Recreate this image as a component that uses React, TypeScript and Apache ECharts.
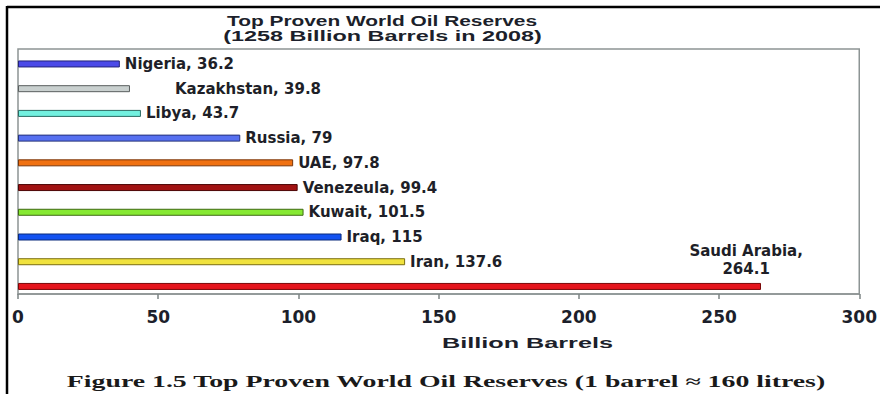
import React, { useEffect, useRef } from "react";
import * as echarts from "echarts";

const countries = ["Nigeria", "Kazakhstan", "Libya", "Russia", "UAE", "Venezeula", "Kuwait", "Iraq", "Iran", "Saudi Arabia"];
const reserves = [36.2, 39.8, 43.7, 79, 97.8, 99.4, 101.5, 115, 137.6, 264.1];
const barColors = ["#4b4ae8", "#c9d0cf", "#72f0df", "#5670f0", "#f07112", "#a11212", "#86e932", "#1352f0", "#f0e23e", "#e5151c"];
const borderColors = ["#23237a", "#5a5f5f", "#2a6a62", "#25327a", "#7a3508", "#4d0606", "#3f6a12", "#0a2a7a", "#7a6e10", "#7a0808"];
const xTicks = [0, 50, 100, 150, 200, 250, 300];
const titleLines = ["Top Proven World Oil Reserves", "(1258 Billion Barrels in 2008)"];
const axisName = "Billion Barrels";
const caption = "Figure 1.5 Top Proven World Oil Reserves (1 barrel \u2248 160 litres)";

function measure(text: string, font: string): number {
  const c = document.createElement("canvas").getContext("2d");
  if (!c) return 1;
  c.font = font;
  return c.measureText(text).width || 1;
}

function stretchedText(text: string, font: string, fontFamily: string, fontSize: number, cx: number, cy: number, targetW: number, color: string) {
  const w = measure(text, font);
  return {
    type: "text",
    x: cx,
    y: cy,
    scaleX: targetW / w,
    style: {
      text,
      fontFamily,
      fontSize,
      fontWeight: "bold",
      fill: color,
      align: "center",
      verticalAlign: "middle",
    },
  };
}

export default function App() {
  const ref = useRef<HTMLDivElement>(null);

  useEffect(() => {
    if (!ref.current) return;
    const chart = echarts.init(ref.current, null, { renderer: "svg" });
    const labelFont = "DejaVu Sans";
    const data = reserves.map((v, i) => {
      const item: any = {
        value: v,
        itemStyle: { color: barColors[i], borderColor: borderColors[i], borderWidth: 1 },
      };
      if (countries[i] === "Kazakhstan") {
        item.label = { distance: 45 };
      }
      if (countries[i] === "Saudi Arabia") {
        item.label = {
          position: ["98%", -5],
          align: "center",
          verticalAlign: "bottom",
          formatter: "{b},\n{c}",
          lineHeight: 18,
        };
      }
      return item;
    });

    const option: any = {
      animation: false,
      backgroundColor: "#ffffff",
      grid: [
        { left: 18, right: 18, top: 49, bottom: 100, show: true, borderColor: "#8d9494", borderWidth: 1.5, backgroundColor: "transparent" },
        { left: 18, right: 18, top: 51.6, bottom: 95.2 },
      ],
      xAxis: [
        {
          type: "value",
          gridIndex: 0,
          min: xTicks[0],
          max: xTicks[xTicks.length - 1],
          interval: xTicks[1] - xTicks[0],
          axisLine: { show: true, lineStyle: { color: "#8d9494", width: 1.5 } },
          axisTick: { show: true, inside: false, length: 5, lineStyle: { color: "#7d8484", width: 1.5 } },
          splitLine: { show: false },
          axisLabel: {
            margin: 14,
            fontFamily: labelFont,
            fontWeight: "bold",
            fontSize: 17,
            color: "#1c1f2b",
          },
        },
        {
          type: "value",
          gridIndex: 1,
          min: xTicks[0],
          max: xTicks[xTicks.length - 1],
          show: false,
        },
      ],
      yAxis: [
        { type: "category", gridIndex: 0, data: countries, inverse: true, show: false },
        { type: "category", gridIndex: 1, data: countries, inverse: true, show: false },
      ],
      series: [
        {
          type: "bar",
          xAxisIndex: 1,
          yAxisIndex: 1,
          barWidth: 7,
          data,
          label: {
            show: true,
            position: "right",
            distance: 5,
            formatter: "{b}, {c}",
            fontFamily: labelFont,
            fontWeight: "bold",
            fontSize: 15,
            color: "#1e1f28",
          },
        },
      ],
      graphic: [
        { type: "line", shape: { x1: 7, y1: 7, x2: 880, y2: 7 }, style: { stroke: "#000", lineWidth: 2.5 } },
        { type: "line", shape: { x1: 7, y1: 6, x2: 7, y2: 394 }, style: { stroke: "#000", lineWidth: 2.5 } },
        stretchedText(titleLines[0], 'bold 14px "Liberation Sans"', "Liberation Sans", 14, 382, 21.5, 310, "#1c1f2b"),
        stretchedText(titleLines[1], 'bold 14px "Liberation Sans"', "Liberation Sans", 14, 382.5, 36, 319, "#1c1f2b"),
        stretchedText(axisName, 'bold 14px "Liberation Sans"', "Liberation Sans", 14, 527.5, 343.5, 171, "#1c1f2b"),
        stretchedText(caption, 'bold 16px "Liberation Serif"', "Liberation Serif", 16, 446, 382, 760, "#1a1a1a"),
      ],
    };
    chart.setOption(option);
    return () => chart.dispose();
  }, []);

  return <div ref={ref} style={{ width: 880, height: 394, position: "absolute", left: 0, top: 0 }} />;
}
